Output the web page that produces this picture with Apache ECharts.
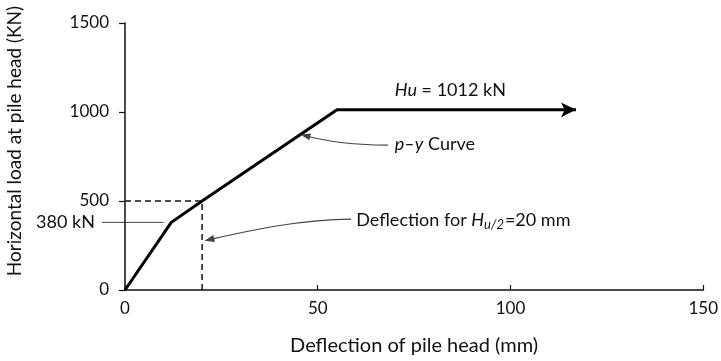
<!DOCTYPE html>
<html>
<head>
<meta charset="utf-8">
<script src="https://cdn.jsdelivr.net/npm/echarts@6/dist/echarts.min.js"></script>
<style>
  html, body { margin: 0; padding: 0; background: #fff; }
  #main { width: 721px; height: 361px; }
</style>
</head>
<body>
<div id="main"></div>
<script>
  // load-deflection curve of the pile head
  var deflection = [0, 12, 20, 55, 117];
  var load = [0, 380, 500, 1012, 1012];
  // dashed guide for Hu/2 = 500 kN -> 20 mm
  var guideX = [0, 20, 20];
  var guideY = [500, 500, 0];
  var xTicks = [0, 50, 100, 150];
  var yTicks = [0, 500, 1000, 1500];
  var ultimateLoad = 1012;
  var yieldLoad = 380;

  var font = 'Lato, "Open Sans", sans-serif';

  var curveData = deflection.map(function (x, i) {
    var item = { value: [x, load[i]] };
    if (i === deflection.length - 1) {
      item.symbol = 'arrow';
      item.symbolSize = [11, 15];
      item.symbolRotate = -90;
    }
    return item;
  });
  var guideData = guideX.map(function (x, i) { return [x, guideY[i]]; });
  var plain = function (v) { return String(v); };

  var chart = echarts.init(document.getElementById('main'));
  chart.setOption({
    animation: false,
    backgroundColor: '#fff',
    grid: { left: 125, right: 13, top: 23, bottom: 68 },
    xAxis: {
      type: 'value', min: xTicks[0], max: xTicks[xTicks.length - 1], interval: 50,
      name: 'Deflection of pile head (mm)', nameLocation: 'middle', nameGap: 46,
      nameTextStyle: { fontFamily: font, fontSize: 20, color: '#111' },
      axisLine: { lineStyle: { color: '#111', width: 1.5 } },
      axisTick: { inside: true, length: 5, lineStyle: { color: '#111', width: 1.2 } },
      axisLabel: { fontFamily: font, fontSize: 17, color: '#111', margin: 10, formatter: plain },
      splitLine: { show: false }
    },
    yAxis: {
      type: 'value', min: yTicks[0], max: yTicks[yTicks.length - 1], interval: 500,
      axisLine: { show: true, lineStyle: { color: '#111', width: 1.5 } },
      axisTick: { show: true, length: 6, lineStyle: { color: '#111', width: 1.2 } },
      axisLabel: { fontFamily: font, fontSize: 17, color: '#111', margin: 16, formatter: plain },
      splitLine: { show: false }
    },
    series: [
      {
        type: 'line', data: guideData, symbol: 'none', z: 2,
        lineStyle: { color: '#111', width: 1.5, type: [6, 4] }
      },
      {
        type: 'line', data: curveData, symbol: 'none', showSymbol: true, z: 3,
        lineStyle: { color: '#000', width: 3 },
        itemStyle: { color: '#000' }
      }
    ]
  });

  // annotations placed in data space, converted to pixels
  function px(x, y) { return chart.convertToPixel({ gridIndex: 0 }, [x, y]); }

  function arrowHead(tip, from, color) {
    var dx = tip[0] - from[0], dy = tip[1] - from[1];
    var len = Math.sqrt(dx * dx + dy * dy);
    var ux = dx / len, uy = dy / len;
    var L = 10, W = 3.5;
    var bx = tip[0] - ux * L, by = tip[1] - uy * L;
    return {
      type: 'polygon', silent: true, z: 10,
      shape: { points: [tip, [bx - uy * W, by + ux * W], [bx + uy * W, by - ux * W]] },
      style: { fill: color }
    };
  }

  var gray = '#444';
  var graphics = [];

  // y axis title
  graphics.push({
    type: 'text', x: 15, y: 141, rotation: Math.PI / 2,
    style: { text: 'Horizontal load at pile head (KN)', font: '19px ' + font, fill: '#111',
      align: 'center', verticalAlign: 'middle' }
  });

  // 380 kN marker
  var m0 = px(-6, yieldLoad), m1 = px(10, yieldLoad);
  graphics.push({
    type: 'line', shape: { x1: m0[0], y1: m0[1], x2: m1[0], y2: m1[1] },
    style: { stroke: gray, lineWidth: 1 }
  });
  graphics.push({
    type: 'text', x: m0[0] - 7, y: m0[1],
    style: { text: yieldLoad + ' kN', font: '18px ' + font, fill: '#111', align: 'right', verticalAlign: 'middle' }
  });

  // Hu label
  var h = px(70, 1120);
  graphics.push({
    type: 'text', x: h[0], y: h[1],
    style: {
      text: '{i|Hu}{n| = ' + ultimateLoad + ' kN}',
      verticalAlign: 'middle', align: 'left',
      rich: {
        i: { font: 'italic 18px ' + font, fill: '#111' },
        n: { font: '18px ' + font, fill: '#111' }
      }
    }
  });

  // p-y curve label and arrow
  var p = px(70, 820);
  graphics.push({
    type: 'text', x: p[0], y: p[1],
    style: {
      text: '{i|p–y}{n| Curve}', verticalAlign: 'middle', align: 'left',
      rich: {
        i: { font: 'italic 18px ' + font, fill: '#111' },
        n: { font: '18px ' + font, fill: '#111' }
      }
    }
  });
  var pt = px(45.5, 873);
  var ps = [p[0] - 7, p[1] + 1];
  var pc2 = [pt[0] + 22, pt[1] + 5];
  graphics.push({
    type: 'bezierCurve',
    shape: { x1: ps[0], y1: ps[1], cpx1: ps[0] - 45, cpy1: ps[1], cpx2: pc2[0], cpy2: pc2[1], x2: pt[0] + 4, y2: pt[1] + 1 },
    style: { stroke: gray, lineWidth: 1.2, fill: null }
  });
  graphics.push(arrowHead(pt, pc2, gray));

  // deflection label and arrow
  var d = px(60, 393);
  graphics.push({
    type: 'text', x: d[0], y: d[1],
    style: {
      text: '{n|Deflection for }{i|H}{s|u/2}{n|=20 mm}', verticalAlign: 'middle', align: 'left',
      rich: {
        i: { font: 'italic 18px ' + font, fill: '#111' },
        s: { font: 'italic 13px ' + font, fill: '#111', padding: [10, 1, 0, 0] },
        n: { font: '18px ' + font, fill: '#111' }
      }
    }
  });
  var dt = px(20.6, 277);
  var ds = [d[0] - 5, d[1] - 1];
  var dc2 = [dt[0] + 45, dt[1] - 10];
  graphics.push({
    type: 'bezierCurve',
    shape: { x1: ds[0], y1: ds[1], cpx1: ds[0] - 50, cpy1: ds[1], cpx2: dc2[0], cpy2: dc2[1], x2: dt[0] + 4, y2: dt[1] - 1 },
    style: { stroke: gray, lineWidth: 1.2, fill: null }
  });
  graphics.push(arrowHead(dt, dc2, gray));

  chart.setOption({ graphic: graphics });
</script>
</body>
</html>
